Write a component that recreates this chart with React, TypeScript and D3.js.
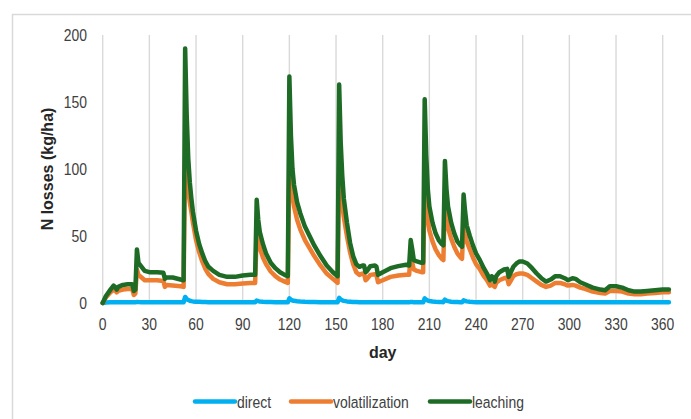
import React from 'react';
import * as d3 from 'd3';

// day of year for each sample
const days = [
  0, 2, 5, 7, 8, 9, 10, 13, 16, 19, 20, 21, 22, 23, 25, 27, 30, 35, 39, 40,
  41, 45, 50, 52, 53, 54, 55, 56, 57, 58, 60, 62, 64, 66, 68, 71, 75, 80, 85, 90,
  95, 98, 99, 100, 101, 103, 105, 108, 111, 114, 117, 119, 120, 121, 122, 123, 125, 127, 130, 133,
  136, 140, 144, 148, 151, 152, 153, 154, 155, 157, 159, 161, 163, 165, 167, 168, 169, 170, 172, 175,
  176, 177, 180, 185, 190, 195, 197, 198, 199, 200, 202, 205, 206, 207, 208, 209, 210, 212, 214, 216,
  218, 219, 220, 221, 222, 224, 226, 228, 230, 231, 232, 233, 234, 236, 238, 240, 242, 245, 247, 249,
  250, 251, 252, 253, 255, 258, 260, 261, 262, 264, 266, 268, 270, 273, 276, 279, 282, 285, 288, 291,
  294, 297, 299, 302, 304, 307, 310, 315, 320, 323, 326, 330, 334, 338, 342, 346, 350, 355, 360, 364,
];

// N losses (kg/ha)
const direct = [
  0, 0.3, 0.5, 0.5, 0.5, 0.5, 0.5, 0.5, 0.5, 0.5, 0.5, 0.5, 0.8, 0.7, 0.6, 0.5, 0.5, 0.5, 0.5, 0.5,
  0.5, 0.5, 0.5, 0.5, 4.5, 3, 2.2, 1.7, 1.4, 1.2, 1, 0.9, 0.8, 0.7, 0.6, 0.6, 0.5, 0.5, 0.5, 0.5,
  0.5, 0.5, 1.8, 1.4, 1.1, 0.9, 0.8, 0.7, 0.6, 0.5, 0.5, 0.5, 3.5, 2.5, 1.9, 1.6, 1.3, 1.1, 0.9, 0.8,
  0.7, 0.6, 0.6, 0.5, 0.5, 3.8, 2.6, 2, 1.6, 1.2, 1, 0.8, 0.7, 0.6, 0.6, 0.6, 0.5, 0.5, 0.5, 0.5,
  0.5, 0.5, 0.5, 0.5, 0.5, 0.5, 0.5, 0.8, 0.7, 0.6, 0.5, 0.5, 0.5, 3.5, 2.4, 1.8, 1.5, 1.1, 0.9, 0.8,
  0.7, 0.6, 2.5, 1.8, 1.4, 1, 0.8, 0.7, 0.6, 0.6, 2, 1.5, 1.2, 0.9, 0.7, 0.6, 0.5, 0.5, 0.5, 0.5,
  0.5, 0.5, 0.5, 0.5, 0.5, 0.5, 0.5, 0.5, 0.5, 0.5, 0.5, 0.5, 0.5, 0.5, 0.5, 0.5, 0.5, 0.5, 0.5, 0.5,
  0.5, 0.5, 0.5, 0.5, 0.5, 0.5, 0.5, 0.5, 0.5, 0.5, 0.5, 0.5, 0.5, 0.5, 0.5, 0.5, 0.5, 0.5, 0.5, 0.5,
];

const volatilization = [
  0, 4, 8, 10, 9.5, 8, 9, 10, 10.5, 10.5, 6, 7, 25, 21, 19, 17, 17, 17, 16.5, 12,
  13.5, 13, 12.5, 12, 108, 96, 84, 75, 68, 60, 47, 38, 31, 25.5, 21.5, 18, 15.5, 14, 14, 14.5,
  15, 15, 52, 46, 41, 34, 29, 23.5, 20, 17.5, 16, 15, 104, 90, 80, 72, 62, 55, 47, 41,
  35, 28, 22, 18, 15, 96, 85, 74, 64, 50, 38, 29, 23, 21, 22, 22, 17, 18, 21, 21.5,
  21, 15.5, 17, 19.5, 20.5, 21, 21, 36, 30, 25, 24, 23, 23, 90, 75, 62, 54, 46, 40, 36,
  33, 32, 76, 64, 56, 48, 42, 37, 34, 33, 61, 52, 46, 40, 34, 29, 26, 20, 17, 13,
  14, 13, 12, 15, 17, 18.5, 19, 14, 16, 20, 21.5, 22, 22, 21, 18.5, 16, 13.5, 12, 13, 15,
  15, 14, 13, 13.5, 13, 11.5, 10.5, 8.5, 7.5, 7, 9, 9, 8.5, 7, 6.5, 6.5, 7, 7.5, 8, 8,
];

const leaching = [
  0, 5, 10, 13, 12, 10, 12, 13.5, 14, 14, 9, 10, 40, 30, 27, 24, 23, 23, 22.5, 18,
  19, 19, 17.5, 17, 190, 140, 108, 90, 78, 68, 54, 44, 37, 31, 27, 24, 21, 19.5, 19.5, 20.5,
  21, 21, 77, 62, 53, 44, 37, 30, 26, 23, 21, 20, 169, 125, 100, 88, 75, 67, 57, 50,
  43, 35, 28, 23, 20, 163, 120, 95, 78, 60, 45, 35, 29, 27, 28, 28, 23, 24, 27.5, 28,
  27, 21, 23, 26, 27.5, 28.5, 28, 47, 40, 32, 31, 30, 30, 152, 110, 85, 72, 60, 52, 47,
  44, 43, 106, 85, 72, 60, 52, 46, 43, 42, 81, 68, 58, 50, 43, 37, 33, 26, 22, 17,
  20, 19, 16, 20, 23, 25, 25.5, 19.5, 22, 27, 29.5, 31, 31, 29.5, 26, 22, 18.5, 16, 17.5, 20,
  20, 18.5, 17, 18.5, 18, 15.5, 14, 11.5, 10, 9.5, 12.5, 12.5, 11.5, 9.5, 8.5, 8.5, 9, 9.5, 10, 10,
];

const xTicks = [0, 30, 60, 90, 120, 150, 180, 210, 240, 270, 300, 330, 360];
const yTicks = [0, 50, 100, 150, 200];

const seriesNames = ['direct', 'volatilization', 'leaching'];
const seriesColors = ['#00b0f0', '#ed7d31', '#1e6b26'];
const seriesValues = [direct, volatilization, leaching];

const sans = "'Liberation Sans', Arial, sans-serif";
// no narrow face installed: squeeze Liberation Sans to Arial Narrow width
const squeeze = 0.82;

export default function App() {
  const width = 691;
  const height = 419;

  const x = d3.scaleLinear().domain([0, 360]).range([102.7, 662.7]);
  const y = d3.scaleLinear().domain([0, 200]).range([303, 35]);

  const lineFor = (vals: number[]) =>
    d3.line<number>()
      .x((_, i) => x(days[i]))
      .y(v => y(v))(vals) || '';

  // legend layout
  const legendX = [195, 291, 430];

  return (
    <svg width={width} height={height} style={{ position: 'absolute', left: 0, top: 0 }}>
      <rect x={0} y={0} width={width} height={height} fill="#fff" />
      <rect x={12.5} y={14.5} width={width + 10} height={height + 10} fill="none" stroke="#d9d9d9" strokeWidth={1.5} />

      {/* vertical gridlines */}
      {xTicks.map(t => (
        <line key={t} x1={x(t)} x2={x(t)} y1={y(200)} y2={y(0)} stroke="#d9d9d9" strokeWidth={1.4} />
      ))}

      {/* series */}
      {seriesValues.map((vals, i) => (
        <path key={seriesNames[i]} d={lineFor(vals)} fill="none" stroke={seriesColors[i]}
          strokeWidth={4.5} strokeLinejoin="round" strokeLinecap="round" />
      ))}

      {/* y tick labels */}
      {yTicks.map(t => (
        <text key={t} transform={`translate(87,${y(t) + 6}) scale(${squeeze},1)`} textAnchor="end"
          fontFamily={sans} fontSize={17} fill="#404040">{t}</text>
      ))}

      {/* x tick labels */}
      {xTicks.map(t => (
        <text key={t} transform={`translate(${x(t)},330) scale(${squeeze},1)`} textAnchor="middle"
          fontFamily={sans} fontSize={17} fill="#404040">{t}</text>
      ))}

      {/* axis titles */}
      <text x={382.7} y={358} textAnchor="middle" fontFamily={sans} fontWeight="bold" fontSize={16} fill="#262626">day</text>
      <text transform={`translate(53,169) rotate(-90)`} textAnchor="middle" fontFamily={sans} fontWeight="bold" fontSize={16} fill="#262626">N losses (kg/ha)</text>

      {/* legend */}
      {seriesNames.map((name, i) => (
        <g key={name} transform={`translate(${legendX[i]},401.5)`}>
          <line x1={0} x2={40} y1={0} y2={0} stroke={seriesColors[i]} strokeWidth={4.5} strokeLinecap="round" />
          <text transform={`translate(42,6) scale(${squeeze},1)`} fontFamily={sans} fontSize={17} fill="#404040">{name}</text>
        </g>
      ))}
    </svg>
  );
}
